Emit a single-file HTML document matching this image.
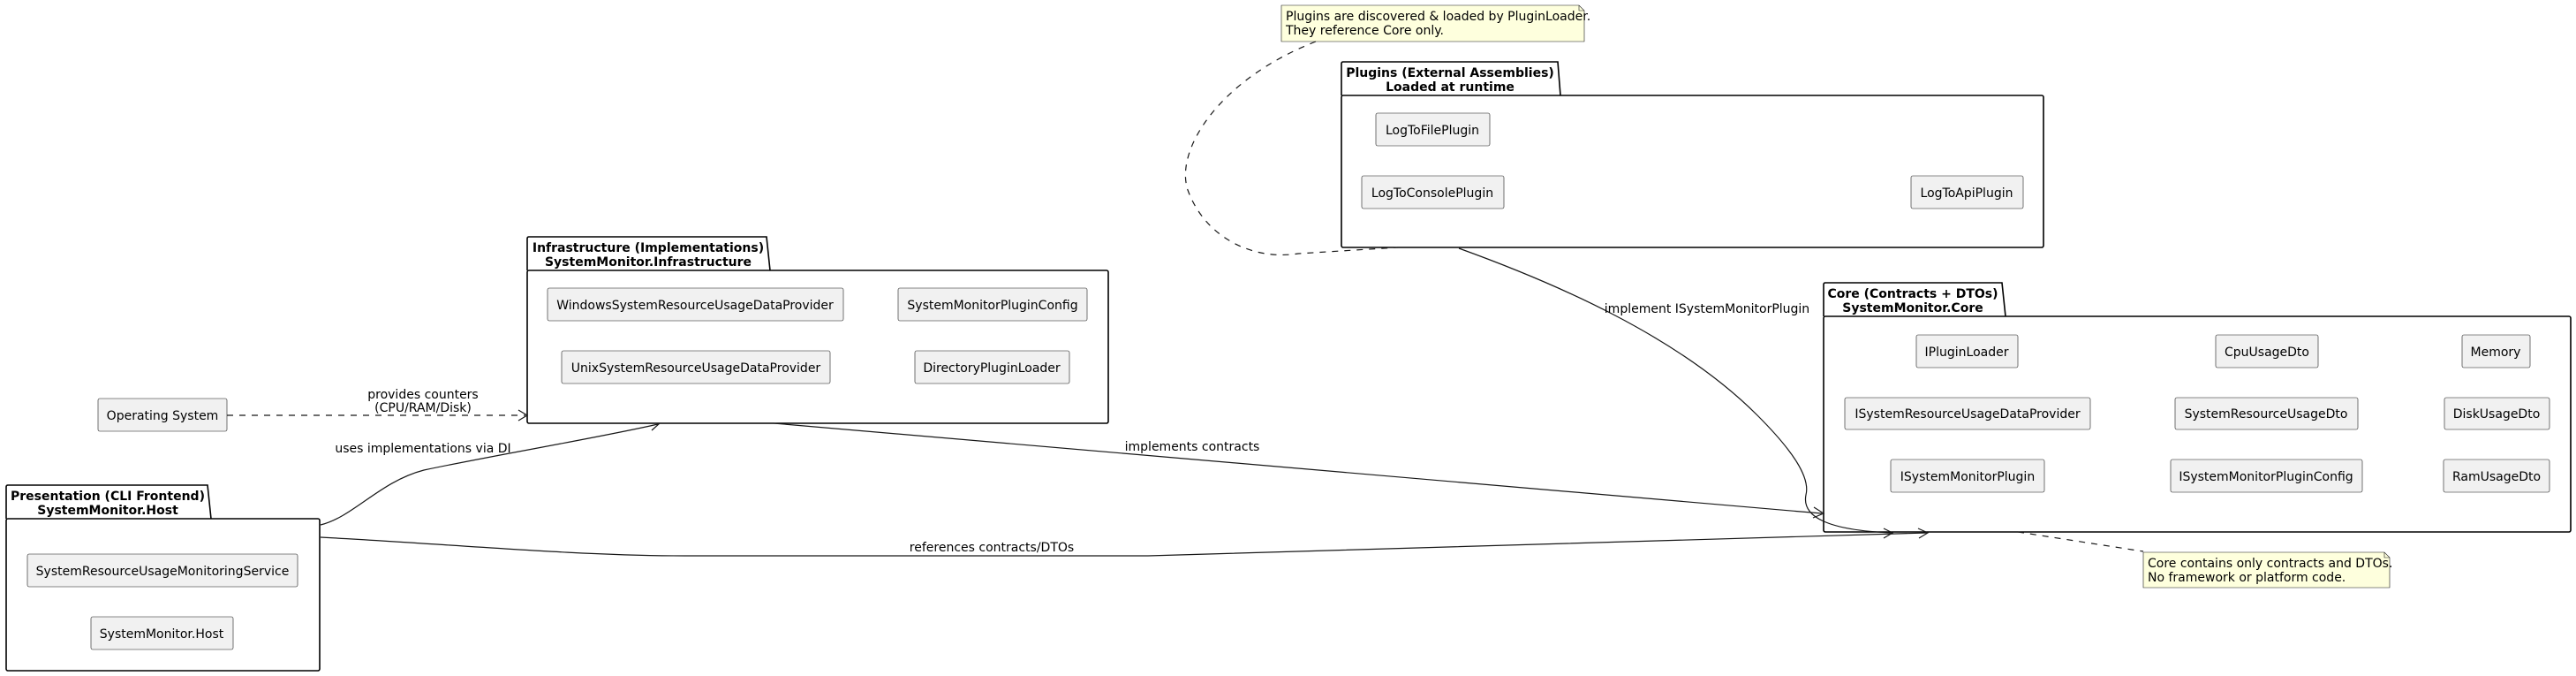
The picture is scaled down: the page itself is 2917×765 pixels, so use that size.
<!DOCTYPE html>
<html><head><meta charset="utf-8"><style>
html,body{margin:0;padding:0;background:#fff;}
svg{display:block;}
text{font-family:"DejaVu Sans","Liberation Sans",sans-serif;font-size:14px;fill:#000;}
.b{font-weight:bold;}
.box{fill:#f1f1f1;stroke:#181818;stroke-width:0.6;}
.pkg{fill:none;stroke:#000;stroke-width:1.6;}
.ln{fill:none;stroke:#181818;stroke-width:1.2;}
.dash{fill:none;stroke:#181818;stroke-width:1.2;stroke-dasharray:7,7;}
.note{fill:#feffdd;stroke:#181818;stroke-width:0.6;}
</style></head><body>
<svg width="2917" height="765" viewBox="0 0 2917 765" xmlns="http://www.w3.org/2000/svg">
<path class="pkg" d="M597,306 L597,270 Q597,268 599,268 L868,268 L872,306"/>
<rect class="pkg" x="597" y="306" width="658" height="173" rx="2"/>
<text class="b" x="734" y="285" text-anchor="middle">Infrastructure (Implementations)</text>
<text class="b" x="734" y="301" text-anchor="middle">SystemMonitor.Infrastructure</text>
<rect class="box" x="620" y="326" width="335" height="37" rx="2"/><text x="787" y="350" text-anchor="middle">WindowsSystemResourceUsageDataProvider</text>
<rect class="box" x="1017" y="326" width="214" height="37" rx="2"/><text x="1124" y="350" text-anchor="middle">SystemMonitorPluginConfig</text>
<rect class="box" x="636" y="397" width="304" height="37" rx="2"/><text x="788" y="421" text-anchor="middle">UnixSystemResourceUsageDataProvider</text>
<rect class="box" x="1036" y="397" width="175" height="37" rx="2"/><text x="1123" y="421" text-anchor="middle">DirectoryPluginLoader</text>

<rect class="box" x="111" y="451" width="146" height="37" rx="2"/><text x="184" y="475" text-anchor="middle">Operating System</text>

<path class="pkg" d="M7,587 L7,551 Q7,549 9,549 L235,549 L239,587"/>
<rect class="pkg" x="7" y="587" width="355" height="172" rx="2"/>
<text class="b" x="122" y="566" text-anchor="middle">Presentation (CLI Frontend)</text>
<text class="b" x="122" y="582" text-anchor="middle">SystemMonitor.Host</text>
<rect class="box" x="31" y="627" width="306" height="37" rx="2"/><text x="184" y="651" text-anchor="middle">SystemResourceUsageMonitoringService</text>
<rect class="box" x="103" y="698" width="161" height="37" rx="2"/><text x="183" y="722" text-anchor="middle">SystemMonitor.Host</text>

<path class="pkg" d="M1519,108 L1519,72 Q1519,70 1521,70 L1764,70 L1767,108"/>
<rect class="pkg" x="1519" y="108" width="795" height="172" rx="2"/>
<text class="b" x="1642" y="87" text-anchor="middle">Plugins (External Assemblies)</text>
<text class="b" x="1642" y="103" text-anchor="middle">Loaded at runtime</text>
<rect class="box" x="1558" y="128" width="129" height="37" rx="2"/><text x="1622" y="152" text-anchor="middle">LogToFilePlugin</text>
<rect class="box" x="1542" y="199" width="161" height="37" rx="2"/><text x="1622" y="223" text-anchor="middle">LogToConsolePlugin</text>
<rect class="box" x="2164" y="199" width="127" height="37" rx="2"/><text x="2227" y="223" text-anchor="middle">LogToApiPlugin</text>

<path class="note" d="M1451,6 L1788,6 L1794,12 L1794,47 L1451,47 Z"/>
<path fill="none" stroke="#181818" stroke-width="0.6" d="M1788,6 L1788,12 L1794,12"/>
<text x="1456" y="23" font-size="13">Plugins are discovered &amp; loaded by PluginLoader.</text>
<text x="1456" y="39" font-size="13">They reference Core only.</text>
<path class="dash" d="M1490,47 C1380,90 1330,170 1345,215 C1365,270 1420,295 1470,287 L1583,280"/>

<path class="pkg" d="M2065,358 L2065,322 Q2065,320 2067,320 L2267,320 L2271,358"/>
<rect class="pkg" x="2065" y="358" width="846" height="244" rx="2"/>
<text class="b" x="2166" y="337" text-anchor="middle">Core (Contracts + DTOs)</text>
<text class="b" x="2166" y="353" text-anchor="middle">SystemMonitor.Core</text>
<rect class="box" x="2170" y="379" width="115" height="37" rx="2"/><text x="2227" y="403" text-anchor="middle">IPluginLoader</text>
<rect class="box" x="2509" y="379" width="116" height="37" rx="2"/><text x="2567" y="403" text-anchor="middle">CpuUsageDto</text>
<rect class="box" x="2788" y="379" width="77" height="37" rx="2"/><text x="2826" y="403" text-anchor="middle">Memory</text>
<rect class="box" x="2089" y="450" width="278" height="36" rx="2"/><text x="2228" y="473" text-anchor="middle">ISystemResourceUsageDataProvider</text>
<rect class="box" x="2463" y="450" width="207" height="36" rx="2"/><text x="2566" y="473" text-anchor="middle">SystemResourceUsageDto</text>
<rect class="box" x="2768" y="450" width="119" height="36" rx="2"/><text x="2827" y="473" text-anchor="middle">DiskUsageDto</text>
<rect class="box" x="2141" y="520" width="174" height="37" rx="2"/><text x="2228" y="544" text-anchor="middle">ISystemMonitorPlugin</text>
<rect class="box" x="2458" y="520" width="217" height="37" rx="2"/><text x="2566" y="544" text-anchor="middle">ISystemMonitorPluginConfig</text>
<rect class="box" x="2767" y="520" width="120" height="37" rx="2"/><text x="2827" y="544" text-anchor="middle">RamUsageDto</text>

<path class="dash" d="M2285,602 L2427,624"/>
<path class="note" d="M2427,625 L2700,625 L2706,631 L2706,665 L2427,665 Z"/>
<path fill="none" stroke="#181818" stroke-width="0.6" d="M2700,625 L2700,631 L2706,631"/>
<text x="2432" y="642" font-size="13">Core contains only contracts and DTOs.</text>
<text x="2432" y="658" font-size="13">No framework or platform code.</text>

<path class="dash" d="M257,470 L595,470"/>
<path class="ln" d="M587,464 L597,470 L587,476"/>
<text x="479" y="451" text-anchor="middle" font-size="13">provides counters</text>
<text x="479" y="466" text-anchor="middle" font-size="13">(CPU/RAM/Disk)</text>

<path class="ln" d="M363,594 C400,585 430,545 480,532 C560,515 680,495 745,480"/>
<path class="ln" d="M735,479 L747,479 L738,487"/>
<text x="479" y="512" text-anchor="middle" font-size="13">uses implementations via DI</text>

<path class="ln" d="M363,608 C500,615 650,629 775,629 L1300,629 L2182,603"/>
<path class="ln" d="M2172,598 L2183,603 L2173,609"/>
<text x="1123" y="624" text-anchor="middle" font-size="13">references contracts/DTOs</text>

<path class="ln" d="M876,479 L2063,581"/>
<path class="ln" d="M2054,574 L2065,581 L2053,586"/>
<text x="1350" y="510" text-anchor="middle" font-size="13">implements contracts</text>

<path class="ln" d="M1652,281 C1760,320 1900,380 1990,470 C2030,510 2050,540 2045,560 C2040,585 2070,600 2142,603"/>
<path class="ln" d="M2133,598 L2143,603 L2133,609"/>
<text x="1933" y="354" text-anchor="middle" font-size="13">implement ISystemMonitorPlugin</text>
</svg>
</body></html>
